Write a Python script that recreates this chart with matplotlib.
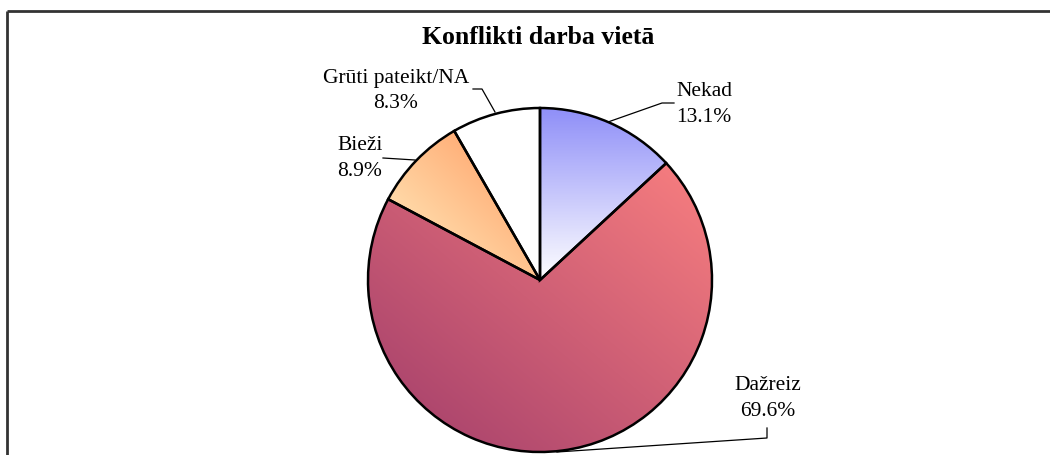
import numpy as np
import matplotlib
matplotlib.use("Agg")
import matplotlib.pyplot as plt
from matplotlib.colors import to_rgb

title = "Konflikti darba vietā"
categories = ["Nekad", "Dažreiz", "Bieži", "Grūti pateikt/NA"]
values = [13.1, 69.6, 8.9, 8.3]

# gradient colours (start, end) and direction (dx, dy) per slice
grad_start = ["#8f8ff8", "#fa8080", "#ff965c", "#ffffff"]
grad_end = ["#ffffff", "#a03c6a", "#fff2c4", "#ffffff"]
grad_dir = [(0, -1), (-1, -1), (-1, -1), (0, -1)]

# label layout (pixel coordinates, y downward)
label_pos = [(704, 104), (768, 398), (360, 159), (396, 91)]
leader = [
    [(608, 122), (662, 103), (674, 103)],
    [(557, 452), (767, 438), (767, 428)],
    [(415, 160), (383, 158)],
    [(495, 112), (482, 89), (473, 89)],
]

W, H = 1050, 455
fig = plt.figure(figsize=(W / 100, H / 100), dpi=100)
ax = fig.add_axes([0, 0, 1, 1])

plt.rcParams["font.family"] = ["Liberation Serif", "DejaVu Serif"]

cx, cy, r = 540, H - 280, 172
wedges, _ = ax.pie(values, startangle=90, counterclock=False, center=(cx, cy),
                   radius=r, frame=True,
                   wedgeprops=dict(facecolor="none", edgecolor="black", linewidth=1.8))
ax.set_xlim(0, W)
ax.set_ylim(0, H)
ax.set_aspect("equal")
ax.axis("off")

for w, c0, c1, d in zip(wedges, grad_start, grad_end, grad_dir):
    path = w.get_path()
    verts = w.get_transform().transform(path.vertices)
    verts = ax.transData.inverted().transform(verts)
    x0, y0 = verts.min(axis=0)
    x1, y1 = verts.max(axis=0)
    n = 200
    xs = np.linspace(0, 1, n)
    ys = np.linspace(1, 0, n)  # image row 0 is top
    X, Y = np.meshgrid(xs, ys)
    dx, dy = d
    px = X if dx > 0 else (1 - X) if dx < 0 else 0 * X
    py = Y if dy > 0 else (1 - Y) if dy < 0 else 0 * Y
    k = (abs(dx) + abs(dy))
    t = (px * abs(dx) + py * abs(dy)) / k
    a = np.array(to_rgb(c0))
    b = np.array(to_rgb(c1))
    img = a[None, None, :] * (1 - t[..., None]) + b[None, None, :] * t[..., None]
    im = ax.imshow(img, extent=(x0, x1, y0, y1), origin="upper", zorder=0.5,
                   interpolation="bilinear", aspect="auto")
    im.set_clip_path(w)
    w.set_zorder(1)

ax.set_xlim(0, W)
ax.set_ylim(0, H)

for cat, v, (lx, ly), pts in zip(categories, values, label_pos, leader):
    ax.text(lx, H - ly, f"{cat}\n{v:.1f}%", ha="center", va="center",
            fontsize=15.5, linespacing=1.5, color="black")
    xs_ = [p[0] for p in pts]
    ys_ = [H - p[1] for p in pts]
    ax.plot(xs_, ys_, color="black", lw=0.9, zorder=2)

ax.text(538, H - 38, title, ha="center", va="center", fontsize=18.5,
        fontweight="bold")

# frame (top and left edges visible)
ax.plot([7, W], [H - 11, H - 11], color="#333333", lw=2, zorder=3,
        solid_capstyle="butt")
ax.plot([7, 7], [H - 11, 0], color="#333333", lw=2, zorder=3,
        solid_capstyle="butt")

fig.savefig("out.png", dpi=100)
